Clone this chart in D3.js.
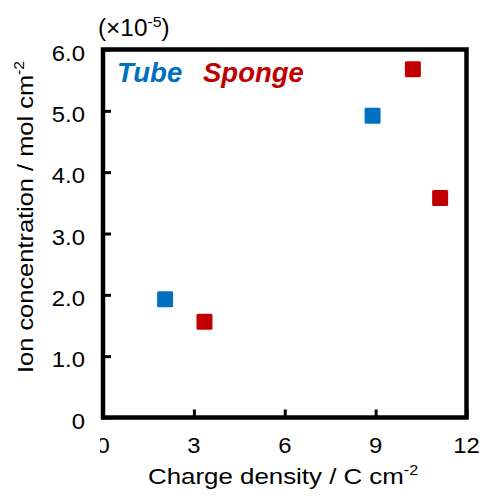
<!DOCTYPE html>
<html>
<head>
<meta charset="utf-8">
<script src="https://cdn.jsdelivr.net/npm/d3@7"></script>
<style>
	body { margin: 0; background: #fff; }
	text { font-family: "Liberation Sans", Arial, sans-serif; fill: #000; }
</style>
</head>
<body>
<svg id="chart" width="482" height="499"></svg>
<script>
// values (ion conc. in units of 1e-5 mol cm-2)
const tubeX = [2.05, 8.9];
const tubeY = [1.93, 4.92];
const spongeX = [3.35, 10.23, 11.13];
const spongeY = [1.56, 5.68, 3.58];
const xTicks = [0, 3, 6, 9, 12];
const yTicks = [0, 1, 2, 3, 4, 5, 6];
const seriesNames = ["Tube", "Sponge"];

(function(d3){
	let svg = d3.select("#chart");

	const left = 103, right = 466.5, top = 49.5, bottom = 417.5;
	const TUBE = "#0070C0", SPONGE = "#C00000";

	var x = d3.scaleLinear().domain([0, 12]).range([left, right]);
	var y = d3.scaleLinear().domain([0, 6]).range([bottom, top]);

	// inward ticks via d3 axes, domain path hidden (frame drawn separately)
	var xAxis = svg.append("g")
		.attr("transform", `translate(0,${bottom})`)
		.call(d3.axisTop(x).tickValues(xTicks).tickSize(8).tickFormat(""));
	var yAxis = svg.append("g")
		.attr("transform", `translate(${left},0)`)
		.call(d3.axisRight(y).tickValues(yTicks).tickSize(8).tickFormat(""));
	[xAxis, yAxis].forEach(a => {
		a.select(".domain").remove();
		a.selectAll("line").attr("stroke", "#000").attr("stroke-width", 3);
	});

	svg.append("rect")
		.attr("x", left).attr("y", top)
		.attr("width", right - left).attr("height", bottom - top)
		.attr("fill", "none")
		.attr("stroke", "#000")
		.attr("stroke-width", 4.5);

	// tick labels
	svg.append("defs").append("clipPath").attr("id", "zeroClip")
		.append("rect")
		.attr("x", x(0) - 3).attr("y", 420).attr("width", 40).attr("height", 50);

	svg.append("g").selectAll("g")
		.data(xTicks)
		.enter().append("g")
		.attr("clip-path", d => d === 0 ? "url(#zeroClip)" : null)
		.append("text")
		.attr("transform", d => `translate(${x(d)},453) scale(1.06,1)`)
		.attr("text-anchor", "middle")
		.style("font-size", "22.5px")
		.text(d => d);

	svg.append("g").selectAll("text")
		.data(yTicks)
		.enter().append("text")
		.attr("transform", d => `translate(85,${y(d) + 11}) scale(1.06,1)`)
		.attr("text-anchor", "end")
		.style("font-size", "22.5px")
		.text(d => d === 0 ? "0" : d.toFixed(1));

	// axis titles
	let xt = svg.append("text")
		.attr("transform", "translate(148,484) scale(1.15,1)")
		.style("font-size", "22.5px");
	xt.append("tspan").text("Charge density / C cm");
	xt.append("tspan").attr("dy", -9).style("font-size", "14px").text("-2");

	let yt = svg.append("text")
		.attr("transform", "translate(33,373) rotate(-90) scale(1.13,1)")
		.style("font-size", "22.5px");
	yt.append("tspan").text("Ion concentration / mol cm");
	yt.append("tspan").attr("dy", -9).style("font-size", "14px").text("-2");

	let mult = svg.append("text")
		.attr("transform", "translate(98,36) scale(1.06,1)")
		.style("font-size", "23px");
	mult.append("tspan").text("(\u00d710");
	mult.append("tspan").attr("dy", -9).style("font-size", "15px").text("-5");
	mult.append("tspan").attr("dy", 9).text(")");

	// legend
	svg.append("g").selectAll("text")
		.data(seriesNames)
		.enter().append("text")
		.attr("x", (d, i) => [117, 203][i])
		.attr("y", 82)
		.style("font-size", "27.5px")
		.style("font-weight", "bold")
		.style("font-style", "italic")
		.style("fill", (d, i) => [TUBE, SPONGE][i])
		.text(d => d);

	// markers
	const sz = 16;
	function drawSeries(xs, ys, color) {
		svg.append("g").selectAll("rect")
			.data(xs.map((v, i) => [v, ys[i]]))
			.enter().append("rect")
			.attr("x", d => x(d[0]) - sz / 2)
			.attr("y", d => y(d[1]) - sz / 2)
			.attr("width", sz).attr("height", sz)
			.attr("rx", 1.5)
			.attr("fill", color);
	}
	drawSeries(tubeX, tubeY, TUBE);
	drawSeries(spongeX, spongeY, SPONGE);
}(d3));
</script>
</body>
</html>
